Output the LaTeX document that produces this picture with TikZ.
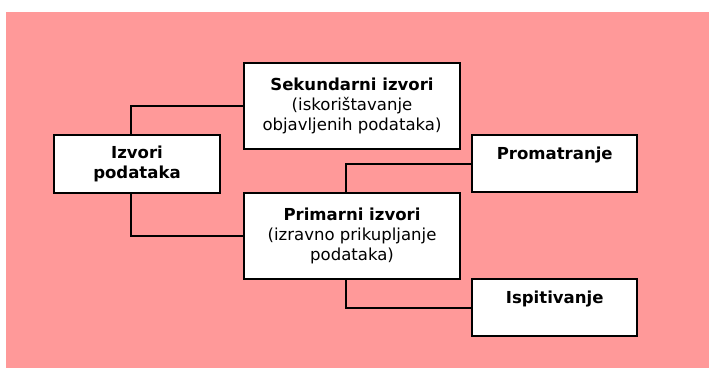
\documentclass[tikz,border=0pt]{standalone}
\usepackage{fontspec}
\setmainfont{DejaVu Sans}
\definecolor{bgpink}{RGB}{255,153,153}
\tikzset{
  srcbox/.style={draw, line width=1.5pt, fill=white, align=center, inner sep=0pt,
    font=\fontsize{12.4}{15}\selectfont},
  link/.style={line width=1.5pt}
}
\begin{document}
\begin{tikzpicture}[x=0.75pt,y=0.75pt,yscale=-1,xscale=1]
        \useasboundingbox (0,0) rectangle (709,368);
        %background
        \fill[bgpink] (6,12) rectangle (709,368);

        %boxes
        \node[srcbox, minimum width=124.5pt, minimum height=43pt] (izvori) at (137,164) {\textbf{Izvori}\\\textbf{podataka}};
        \node[srcbox, minimum width=162pt, minimum height=64.5pt] (sekundarni) at (352,106.3) {\textbf{Sekundarni izvori}\\(iskorištavanje\\objavljenih podataka)};
        \node[srcbox, minimum width=162pt, minimum height=64.5pt] (primarni) at (352,235.7) {\textbf{Primarni izvori}\\(izravno prikupljanje\\podataka)};
        \node[srcbox, minimum width=124pt, minimum height=43pt] (promatranje) at (554.7,163.7) {\textbf{Promatranje}\\~};
        \node[srcbox, minimum width=124pt, minimum height=43pt] (ispitivanje) at (554.7,307.7) {\textbf{Ispitivanje}\\~};

        %connectors
        \draw[link] (sekundarni.west) -| ([xshift=-4.5pt]izvori.north);
        \draw[link] ([xshift=-4.5pt]izvori.south) |- (primarni.west);
        \draw[link] (promatranje.west) -| ([xshift=-4.5pt]primarni.north);
        \draw[link] ([xshift=-4.5pt]primarni.south) |- (ispitivanje.west);
\end{tikzpicture}
\end{document}
